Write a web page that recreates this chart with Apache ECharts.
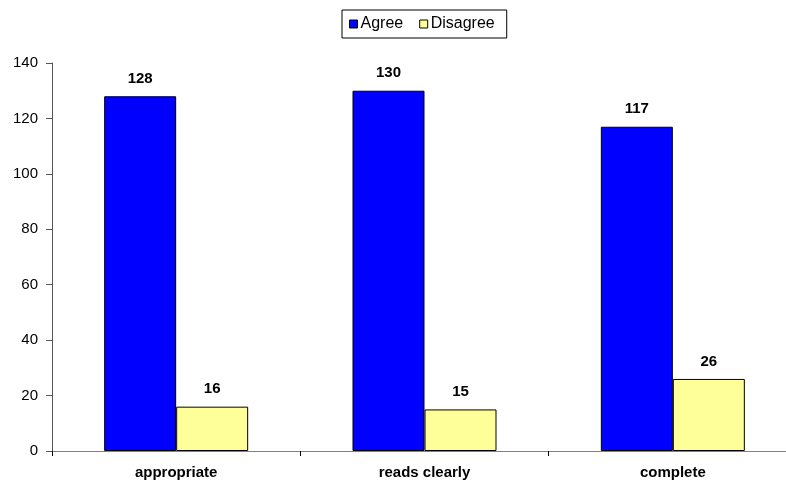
<!DOCTYPE html>
<html>
<head>
<meta charset="utf-8">
<script src="https://cdn.jsdelivr.net/npm/echarts@6/dist/echarts.min.js"></script>
<style>
  html, body { margin: 0; padding: 0; background: #fff; }
  #chart { width: 786px; height: 483px; }
</style>
</head>
<body>
<div id="chart"></div>
<script>
// data
var categories = ['appropriate', 'reads clearly', 'complete'];
var agree = [128, 130, 117];
var disagree = [16, 15, 26];
var yTicks = { min: 0, max: 140, step: 20 };

var chart = echarts.init(document.getElementById('chart'));

var labelStyle = {
    show: true,
    position: 'top',
    distance: 10,
    color: '#000',
    fontFamily: 'Liberation Sans, Arial, sans-serif',
    fontWeight: 'bold',
    fontSize: 15
};

var option = {
    animation: false,
    textStyle: { fontFamily: 'Liberation Sans, Arial, sans-serif' },
    legend: {
        top: 10,
        left: 342,
        data: ['Agree', 'Disagree'],
        borderColor: '#000',
        borderWidth: 1,
        padding: [6, 12, 6, 7],
        itemWidth: 8,
        itemHeight: 8,
        itemGap: 16,
        icon: 'rect',
        itemStyle: { borderColor: '#000', borderWidth: 1 },
        textStyle: { color: '#000', fontSize: 16, padding: [0, 0, 0, -2] }
    },
    grid: { left: 52, width: 745, top: 63, bottom: 32, outerBoundsMode: 'none' },
    xAxis: {
        type: 'category',
        data: categories,
        axisLine: { lineStyle: { color: '#808080', width: 1 } },
        axisTick: { show: true, alignWithLabel: false, length: 5, lineStyle: { color: '#000' } },
        axisLabel: { color: '#000', fontWeight: 'bold', fontSize: 15, margin: 14 }
    },
    yAxis: {
        type: 'value',
        min: yTicks.min,
        max: yTicks.max,
        interval: yTicks.step,
        splitLine: { show: false },
        axisLine: { show: true, lineStyle: { color: '#555', width: 1 } },
        axisTick: { show: true, length: 6, lineStyle: { color: '#555' } },
        axisLabel: { color: '#000', fontSize: 15, margin: 14 }
    },
    series: [
        {
            name: 'Agree',
            type: 'bar',
            data: agree,
            barWidth: 72,
            barGap: '0%',
            itemStyle: { color: '#0000FF', borderColor: '#000', borderWidth: 1 },
            label: labelStyle
        },
        {
            name: 'Disagree',
            type: 'bar',
            data: disagree,
            barWidth: 72,
            itemStyle: { color: '#FFFF99', borderColor: '#000', borderWidth: 1 },
            label: labelStyle
        }
    ]
};

chart.setOption(option);
</script>
</body>
</html>
